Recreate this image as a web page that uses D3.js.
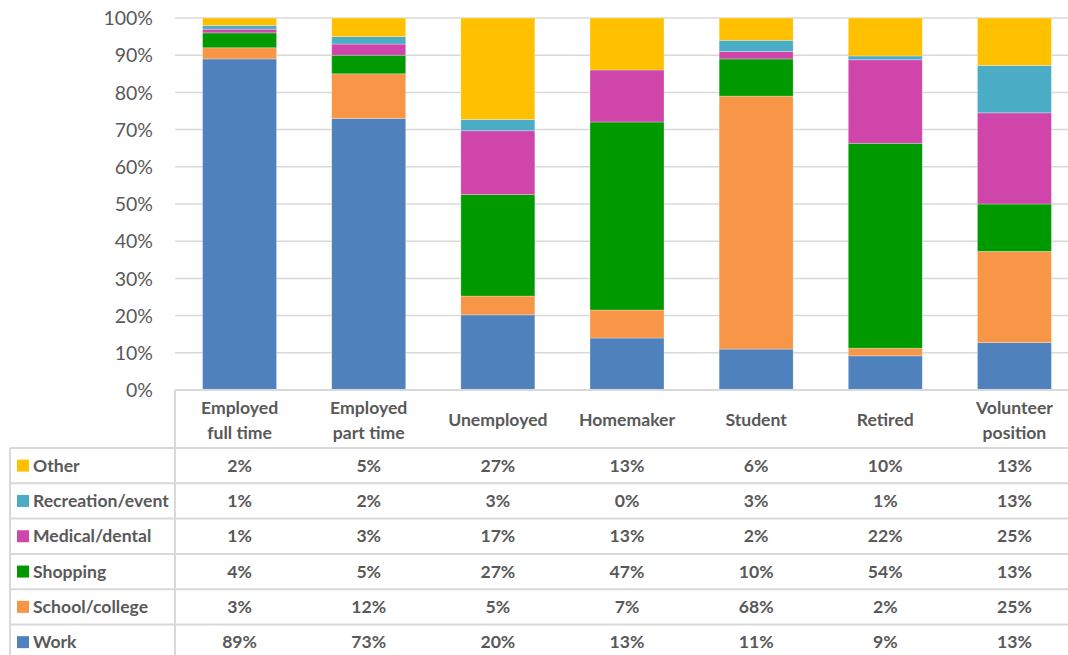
<!DOCTYPE html>
<html>
<head>
<meta charset="utf-8">
<script src="https://cdn.jsdelivr.net/npm/d3@7"></script>
<style>
  html, body { margin: 0; padding: 0; background: #fff; }
  svg { display: block; font-family: Lato, "Open Sans", sans-serif; }
</style>
</head>
<body>
<svg id="chart" width="1068" height="655"></svg>
<script>
// Trip purpose by employment status (100% stacked columns with data table)
const categories = ["Employed\nfull time", "Employed\npart time", "Unemployed", "Homemaker", "Student", "Retired", "Volunteer\nposition"];
const seriesNames = ["Work", "School/college", "Shopping", "Medical/dental", "Recreation/event", "Other"];
const seriesColors = ["#4f81bd", "#f79646", "#009a00", "#cf45aa", "#4bacc6", "#ffc000"];
const work       = [89, 73, 20, 13, 11,  9, 13];
const school     = [ 3, 12,  5,  7, 68,  2, 25];
const shopping   = [ 4,  5, 27, 47, 10, 54, 13];
const medical    = [ 1,  3, 17, 13,  2, 22, 25];
const recreation = [ 1,  2,  3,  0,  3,  1, 13];
const other      = [ 2,  5, 27, 13,  6, 10, 13];
const yTicks = [0, 0.1, 0.2, 0.3, 0.4, 0.5, 0.6, 0.7, 0.8, 0.9, 1.0];

const seriesValues = [work, school, shopping, medical, recreation, other];
const rows = categories.map((c, i) => {
  const r = { category: c };
  seriesNames.forEach((s, k) => { r[s] = seriesValues[k][i]; });
  return r;
});

const svg = d3.select("#chart");
const textColor = "#595959";
const lineColor = "#d9d9d9";
const labelSize = "17.6px";

const plotLeft = 175, plotRight = 1079, plotTop = 18, plotBottom = 390;
const tableLeft = 10;
const rowTop = 448, rowH = 35.3;

const x = d3.scaleBand().domain(categories).range([plotLeft, plotRight])
  .paddingInner(0.427).paddingOuter(0.2135);
const colX = d3.scaleBand().domain(categories).range([plotLeft, plotRight]);
const y = d3.scaleLinear().domain([0, 1]).range([plotBottom, plotTop]);

// gridlines
svg.append("g").selectAll("line").data(yTicks.filter(t => t > 0)).join("line")
  .attr("x1", plotLeft).attr("x2", 1068)
  .attr("y1", d => y(d)).attr("y2", d => y(d))
  .attr("stroke", lineColor).attr("stroke-width", 1.5);

// y axis labels
const yAxis = d3.axisLeft(y).tickValues(yTicks).tickFormat(d3.format(".0%")).tickSize(0).tickPadding(0);
const yg = svg.append("g").attr("transform", `translate(153,0)`).call(yAxis);
yg.select(".domain").remove();
yg.selectAll("text").attr("fill", textColor).style("font-size", "19.5px")
  .style("font-family", "Lato, sans-serif").attr("dy", "0.34em");

// stacked bars, normalised to 100%
const stack = d3.stack().keys(seriesNames).offset(d3.stackOffsetExpand);
const stacked = stack(rows);
svg.append("g").selectAll("g").data(stacked).join("g")
  .attr("fill", (d, i) => seriesColors[i])
  .selectAll("rect").data(d => d).join("rect")
  .attr("x", d => x(d.data.category))
  .attr("width", x.bandwidth())
  .attr("y", d => y(d[1]))
  .attr("height", d => Math.max(0, y(d[0]) - y(d[1])))
  .attr("stroke", "rgba(255,255,255,0.35)").attr("stroke-width", 0.8);

// data table grid
const tbl = svg.append("g").attr("stroke", lineColor).attr("stroke-width", 2).attr("fill", "none");
tbl.append("line").attr("x1", plotLeft).attr("x2", 1068).attr("y1", plotBottom).attr("y2", plotBottom);
const nRows = seriesNames.length;
d3.range(nRows + 1).forEach(k => {
  tbl.append("line").attr("x1", tableLeft).attr("x2", 1068)
    .attr("y1", rowTop + k * rowH).attr("y2", rowTop + k * rowH);
});
tbl.append("line").attr("x1", plotLeft).attr("x2", plotLeft).attr("y1", plotBottom).attr("y2", 655);
tbl.append("line").attr("x1", tableLeft).attr("x2", tableLeft).attr("y1", rowTop).attr("y2", 655);

// category header labels
const hdr = svg.append("g").attr("fill", textColor).attr("font-weight", "bold")
  .style("font-size", labelSize).attr("text-anchor", "middle");
categories.forEach(c => {
  const lines = c.split("\n");
  const cx = colX(c) + colX.bandwidth() / 2;
  const t = hdr.append("text").attr("x", cx);
  const mid = (plotBottom + rowTop) / 2 + 1;
  lines.forEach((ln, i) => {
    t.append("tspan").attr("x", cx)
      .attr("y", mid + (i - (lines.length - 1) / 2) * 25)
      .attr("dy", "0.35em").text(ln);
  });
});

// table rows: legend key, series name, values
const tableSeries = seriesNames.map((s, k) => ({ name: s, color: seriesColors[k], values: seriesValues[k] })).reverse();
const fmt = v => v + "%";
tableSeries.forEach((s, r) => {
  const cy = rowTop + r * rowH + rowH / 2;
  svg.append("rect").attr("x", 17).attr("y", cy - 6).attr("width", 12).attr("height", 12).attr("fill", s.color);
  svg.append("text").attr("x", 33).attr("y", cy).attr("dy", "0.35em")
    .attr("fill", textColor).attr("font-weight", "bold").style("font-size", labelSize).text(s.name);
  svg.append("g").selectAll("text").data(s.values).join("text")
    .attr("x", (d, i) => colX(categories[i]) + colX.bandwidth() / 2)
    .attr("y", cy).attr("dy", "0.35em").attr("text-anchor", "middle")
    .attr("fill", textColor).attr("font-weight", "bold").style("font-size", labelSize)
    .text(fmt);
});
</script>
</body>
</html>
